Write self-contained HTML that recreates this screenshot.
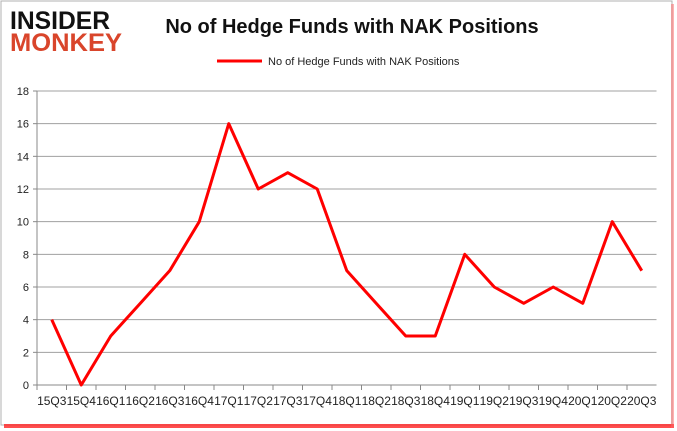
<!DOCTYPE html>
<html><head><meta charset="utf-8"><style>
body{margin:0;background:#fff;}
svg{display:block;font-family:"Liberation Sans",Arial,sans-serif;}
</style></head><body>
<svg id="c" width="677" height="431">
<rect x="1" y="1" width="671" height="424" fill="#fff" stroke="#b0b0b0"/>
<rect x="4" y="424" width="670" height="4" fill="#f22" opacity="0.8"/>
<rect x="671" y="4" width="3" height="424" fill="#f66" opacity="0.5"/>
<text x="10" y="29" font-size="25" font-weight="bold" fill="#111" textLength="100" lengthAdjust="spacingAndGlyphs">INSIDER</text>
<text x="10" y="51" font-size="25" font-weight="bold" fill="#d9452b" textLength="112" lengthAdjust="spacingAndGlyphs">MONKEY</text>
<text x="352" y="33" font-size="20" font-weight="bold" fill="#111" text-anchor="middle">No of Hedge Funds with NAK Positions</text>
<line x1="217" y1="61" x2="262" y2="61" stroke="#f00" stroke-width="3"/>
<text x="268" y="65" font-size="11" fill="#222">No of Hedge Funds with NAK Positions</text>
<g id="grid"></g><g id="axes"></g><g id="series"></g>
</svg>
<script>
const categories=["15Q3","15Q4","16Q1","16Q2","16Q3","16Q4","17Q1","17Q2","17Q3","17Q4","18Q1","18Q2","18Q3","18Q4","19Q1","19Q2","19Q3","19Q4","20Q1","20Q2","20Q3"];
const values=[4,0,3,5,7,10,16,12,13,12,7,5,3,3,8,6,5,6,5,10,7];
const yTicks=[0,2,4,6,8,10,12,14,16,18];
const L=37,R=656.5,T=91,B=385,yMax=18;
const bw=(R-L)/categories.length;
const xs=i=>L+bw*(i+0.5);
const ys=v=>B-(v/yMax)*(B-T);
const NS="http://www.w3.org/2000/svg";
function mk(tag,attrs,parent,txt){const e=document.createElementNS(NS,tag);for(const k in attrs)e.setAttribute(k,attrs[k]);if(txt!=null)e.textContent=txt;parent.appendChild(e);return e;}
const grid=document.getElementById('grid'),axes=document.getElementById('axes'),series=document.getElementById('series');
yTicks.forEach(t=>{
  if(t>0){const g=mk('line',{x1:L,x2:R,y1:ys(t),y2:ys(t),stroke:'#a0a0a0','stroke-width':1},grid);
  
  }
  const tk=mk('line',{x1:L-4,x2:L,y1:ys(t),y2:ys(t),stroke:'#888'},axes);
  
  
  const lb=mk('text',{x:L-8,y:ys(t)+4,'font-size':11,'text-anchor':'end',fill:'#222'},axes,t);
  
  
});
const ya=mk('line',{x1:L,x2:L,y1:T,y2:B,stroke:'#888'},axes);


const xa=mk('line',{x1:L,x2:R,y1:B,y2:B,stroke:'#888'},axes);


categories.forEach((c,i)=>{
  const tk=mk('line',{x1:L+bw*i,x2:L+bw*i,y1:B,y2:B+5,stroke:'#888'},axes);
  
  
  const lb=mk('text',{x:xs(i),y:B+20,'font-size':12,'text-anchor':'middle',fill:'#222'},axes,c);
  
  
});
const ln=mk('polyline',{points:values.map((v,i)=>xs(i)+','+ys(v)).join(' '),fill:'none',stroke:'#f00','stroke-width':3,'stroke-linejoin':'round'},series);


</script>
</body></html>
